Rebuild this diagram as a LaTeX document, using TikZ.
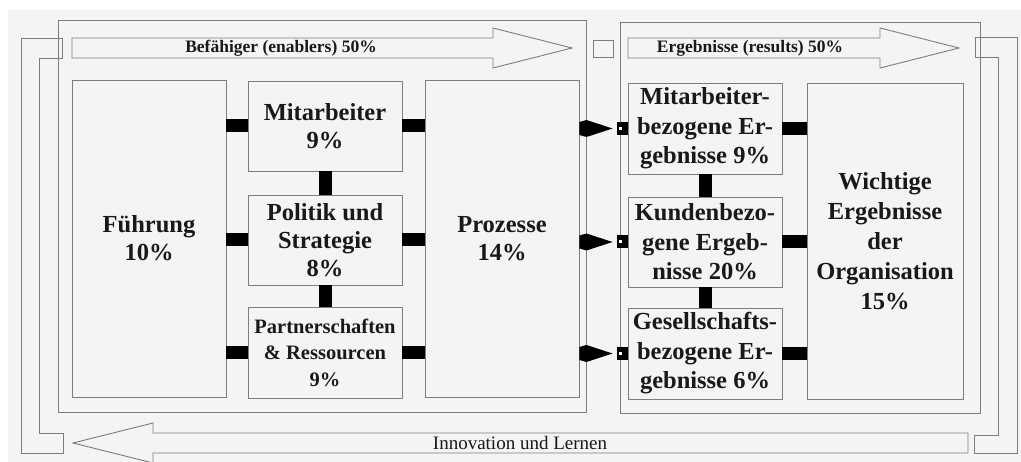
\documentclass[tikz,border=0pt]{standalone}
\usepackage{fontspec}
\setmainfont{Liberation Serif}
\usetikzlibrary{arrows.meta,calc}
\definecolor{ln}{RGB}{125,125,125}
\definecolor{bg}{RGB}{244,244,244}
\definecolor{tx}{RGB}{25,25,25}
\tikzset{
  box/.style={draw=ln, line width=0.9pt, fill=bg, minimum width=154pt, inner sep=0pt,
    align=center, text=tx, font=\bfseries\fontsize{24.5}{28}\selectfont},
  resbox/.style={box, font=\bfseries\fontsize{24.5}{29.5}\selectfont},
  bar/.style={line width=13pt, draw=black},
  outline/.style={draw=ln, line width=0.9pt},
  arrowlabel/.style={text=tx, font=\bfseries\fontsize{17.5}{20}\selectfont, inner sep=0pt},
}
\begin{document}
\begin{tikzpicture}[x=1pt,y=-1pt]
\useasboundingbox (0,0) rectangle (1021,462);
\fill[white] (0,0) rectangle (1021,462);
\fill[bg] (8,10) rectangle (1021,462);

% outer frames
\draw[outline] (58,20) rectangle (586,412);
\draw[outline] (620,22) rectangle (980,413);
\draw[outline] (593,40) rectangle (613,57);

% loop bands
\draw[outline] (21,38) -- (62,38) -- (62,58) -- (39,58) -- (39,433) -- (63,433) -- (63,453) -- (21,453) -- cycle;
\draw[outline] (975,37) -- (1017,37) -- (1017,453) -- (974,453) -- (974,435) -- (998,435) -- (998,57) -- (975,57) -- cycle;

% big arrows
\draw[outline] (72,38) -- (493,38) -- (493,28) -- (572,48) -- (493,68) -- (493,58) -- (72,58) -- cycle;
\node[arrowlabel] (enab) at (281,48) {Befähiger (enablers) 50\%};
\draw[outline] (628,38) -- (880,38) -- (880,28) -- (959,48) -- (880,68) -- (880,58) -- (628,58) -- cycle;
\node[arrowlabel] (resl) at (750,48) {Ergebnisse (results) 50\%};
\draw[outline] (968,433) -- (153,433) -- (153,423) -- (73,443) -- (153,463) -- (153,453) -- (968,453) -- cycle;
\node[text=tx, font=\fontsize{19}{22}\selectfont, inner sep=0pt] (innov) at (520,443) {Innovation und Lernen};

% boxes
\node[box, minimum height=317pt] (fu) at (149,238.5) {Führung\\10\%};
\node[box, minimum height=90pt] (ma) at (325,126) {Mitarbeiter\\9\%};
\node[box, minimum height=90pt] (ps) at (325,240) {Politik und\\Strategie\\8\%};
\node[box, minimum height=91pt, font=\bfseries\fontsize{20.5}{26.5}\selectfont] (pr) at (325,352.5) {Partnerschaften\\\& Ressourcen\\9\%};
\node[box, minimum height=317pt] (pz) at (502,238.5) {Prozesse\\14\%};
\node[resbox, minimum height=91pt] (r1) at (705,128.5) {Mitarbeiter-\\bezogene Er-\\gebnisse 9\%};
\node[resbox, minimum height=90pt] (r2) at (705,242) {Kundenbezo-\\gene Ergeb-\\nisse 20\%};
\node[resbox, minimum height=91pt] (r3) at (705,353.5) {Gesellschafts-\\bezogene Er-\\gebnisse 6\%};
\node[resbox, minimum width=156pt, minimum height=316pt, font=\bfseries\fontsize{24.5}{30}\selectfont] (wi) at (885,241) {Wichtige\\Ergebnisse\\der\\Organisation\\15\%};

% enabler bars
\foreach \b in {ma,ps,pr}{
  \draw[bar] (fu.east |- \b.west) -- (\b.west);
  \draw[bar] (\b.east) -- (pz.west |- \b.east);
}
\draw[bar] (ma.south) -- (ps.north);
\draw[bar] (ps.south) -- (pr.north);

% result bars
\foreach \b in {r1,r2,r3}{
  \draw[bar] (\b.east) -- (wi.west |- \b.east);
  \fill[black] ($(\b.west)+(-11,-6.5)$) rectangle ($(\b.west)+(0,6.5)$);
  \fill[white] ($(\b.west)+(-9,-1.5)$) rectangle ($(\b.west)+(-6,1.5)$);
  \fill[black] ($(pz.east |- \b.west)+(0,-6.5)$) -- ($(pz.east |- \b.west)+(7,-8.5)$)
     -- ($(\b.west)+(-15,0)$) -- ($(pz.east |- \b.west)+(7,8.5)$) -- ($(pz.east |- \b.west)+(0,6.5)$) -- cycle;
}
\draw[bar] (r1.south) -- (r2.north);
\draw[bar] (r2.south) -- (r3.north);
\end{tikzpicture}
\end{document}
